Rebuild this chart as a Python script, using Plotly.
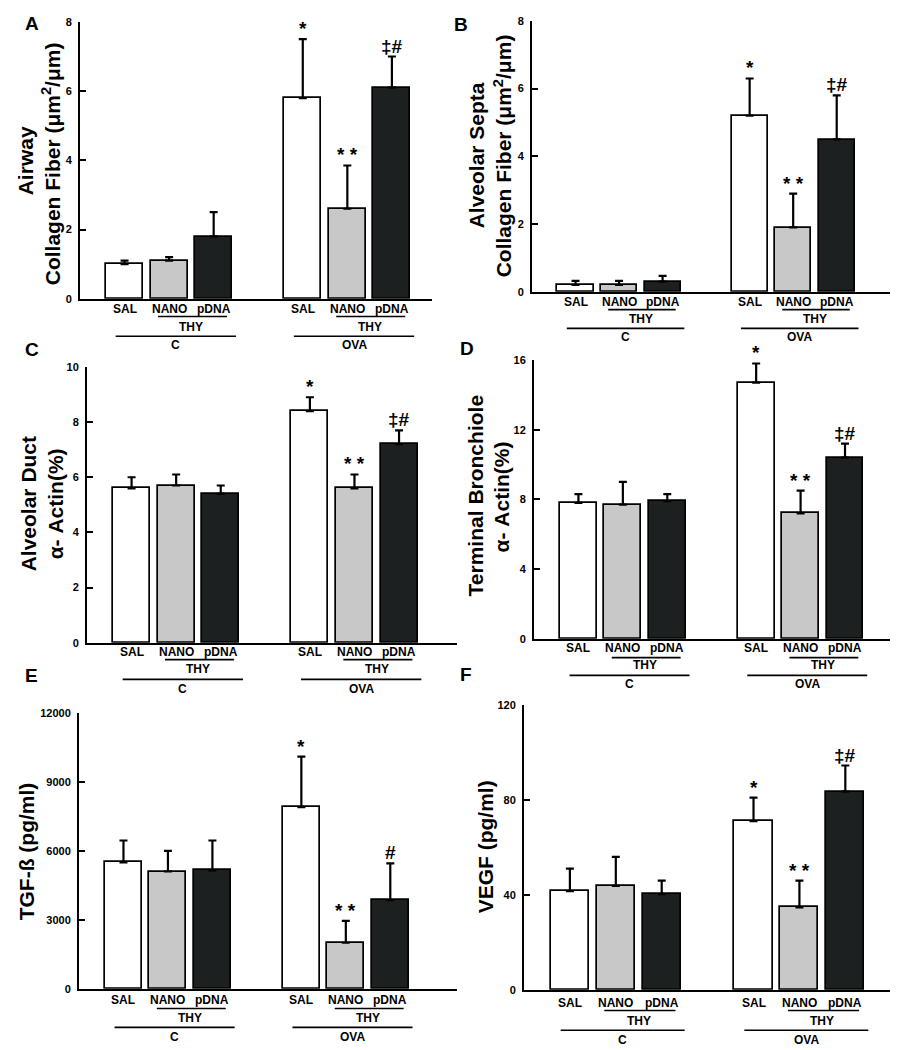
import plotly.graph_objects as go

W, H = 898, 1050

categories = ["SAL", "NANO", "pDNA", "SAL", "NANO", "pDNA"]
groups = ["C", "OVA"]
subgroup = "THY"

a_mean = [1.0, 1.1, 1.8, 5.8, 2.6, 6.1]
a_top = [1.1, 1.2, 2.5, 7.5, 3.85, 7.0]
b_mean = [0.2, 0.2, 0.3, 5.2, 1.9, 4.5]
b_top = [0.32, 0.32, 0.47, 6.3, 2.9, 5.8]
c_mean = [5.6, 5.7, 5.4, 8.4, 5.6, 7.2]
c_top = [6.0, 6.1, 5.7, 8.9, 6.1, 7.7]
d_mean = [7.8, 7.7, 7.9, 14.7, 7.2, 10.4]
d_top = [8.3, 9.0, 8.3, 15.8, 8.5, 11.2]
e_mean = [5500, 5100, 5150, 7900, 2000, 3850]
e_top = [6450, 6000, 6450, 10100, 2950, 5450]
f_mean = [41.5, 43.8, 40.3, 71, 34.7, 83.5]
f_top = [51, 56, 46, 81, 46, 94.5]

a_marks = ["", "", "", "*", "* *", "‡#"]
e_marks = ["", "", "", "*", "* *", "#"]

positions = [1, 2, 3, 5, 6, 7]
colors = ["#ffffff", "#c8c8c8", "#1c2020", "#ffffff", "#c8c8c8", "#1c2020"]

FONT = "Liberation Sans, Arial, sans-serif"

panels = [
    dict(letter="A", mean=a_mean, top=a_top, marks=a_marks, px=(72, 424, 8, 288), xmax=7.9,
         ymax=8, ticks=[0, 2, 4, 6, 8],
         titles=[("Airway", 17, 149), ("Collagen Fiber (μm<sup>2</sup>/μm)", 43, 152)],
         lpos=(24, 10), rows=(10, 18, 29, 38, 47)),
    dict(letter="B", mean=b_mean, top=b_top, marks=a_marks, px=(524, 894, 7, 281), xmax=8.5,
         ymax=8, ticks=[0, 2, 4, 6, 8],
         titles=[("Alveolar Septa", 468, 143), ("Collagen Fiber (μm<sup>2</sup>/μm)", 495, 144)],
         lpos=(453, 11), rows=(10, 18, 28, 37, 46)),
    dict(letter="C", mean=c_mean, top=c_top, marks=a_marks, px=(79, 449, 357, 636), xmax=8.3,
         ymax=10, ticks=[0, 2, 4, 6, 8, 10],
         titles=[("Alveolar Duct", 20, 496), ("α- Actin(%)", 47, 496)],
         lpos=(24, 339), rows=(9, 17, 27, 37, 47)),
    dict(letter="D", mean=d_mean, top=d_top, marks=a_marks, px=(526, 897, 350, 632), xmax=8.35,
         ymax=16, ticks=[0, 4, 8, 12, 16],
         titles=[("Terminal Bronchiole", 467, 488), ("α- Actin(%)", 493, 489)],
         lpos=(459, 338), rows=(9, 19, 27, 37, 46)),
    dict(letter="E", mean=e_mean, top=e_top, marks=e_marks, px=(71, 449, 707, 986), xmax=8.5,
         ymax=12000, ticks=[0, 3000, 6000, 9000, 12000],
         titles=[("TGF-ß (pg/ml)", 18, 847)],
         lpos=(23, 669), rows=(11, 20, 30, 39, 49)),
    dict(letter="F", mean=f_mean, top=f_top, marks=a_marks, px=(516, 897, 699, 987), xmax=8.3,
         ymax=120, ticks=[0, 40, 80, 120],
         titles=[("VEGF (pg/ml)", 477, 843)],
         lpos=(458, 668), rows=(13, 21, 32, 41, 51)),
]


def px_x(x):
    return x / W


def px_y(y):
    return 1 - y / H


fig = go.Figure()
annotations = []
shapes = []
bold = dict(family=FONT, color="black", weight="bold")

for i, p in enumerate(panels, start=1):
    xa = "x" if i == 1 else f"x{i}"
    ya = "y" if i == 1 else f"y{i}"
    xl, xr, yt, yb = p["px"]
    fig.add_trace(go.Bar(
        x=positions, y=p["mean"], xaxis=xa, yaxis=ya, width=0.83,
        marker=dict(color=colors, line=dict(color="black", width=1.7)),
        error_y=dict(type="data", symmetric=False,
                     array=[t - m for t, m in zip(p["top"], p["mean"])],
                     arrayminus=[0] * 6, color="black", thickness=2.2, width=4),
        showlegend=False, hoverinfo="skip",
    ))
    xkey = "xaxis" if i == 1 else f"xaxis{i}"
    ykey = "yaxis" if i == 1 else f"yaxis{i}"
    fig.update_layout(**{
        xkey: dict(domain=[px_x(xl), px_x(xr)], range=[0, p["xmax"]], anchor=ya,
                   showline=True, linecolor="black", linewidth=2, showgrid=False,
                   zeroline=False, showticklabels=False, ticks="", fixedrange=True),
        ykey: dict(domain=[px_y(yb), px_y(yt)], range=[0, p["ymax"]], anchor=xa,
                   showline=True, linecolor="black", linewidth=2, showgrid=False,
                   zeroline=False, ticks="inside", ticklen=6, tickwidth=2,
                   tickcolor="black", tickvals=p["ticks"],
                   ticktext=[str(t) for t in p["ticks"]], ticklabelstandoff=4,
                   tickfont=dict(size=11, **bold)),
    })

    for xpos, top, mk in zip(positions, p["top"], p["marks"]):
        if mk:
            annotations.append(dict(x=xpos, y=top, xref=xa, yref=ya, text=mk,
                                    showarrow=False, yanchor="bottom", yshift=-2,
                                    font=dict(size=19, **bold)))

    r_lab, r_thyline, r_thy, r_grpline, r_grp = p["rows"]
    for xpos, cat in zip(positions, categories):
        annotations.append(dict(x=xpos, y=px_y(yb + r_lab), xref=xa, yref="paper",
                                text=cat, showarrow=False, yanchor="middle",
                                font=dict(size=12, **bold)))
    for g, base in zip(groups, [1, 5]):
        shapes.append(dict(type="line", xref=xa, yref="paper",
                           x0=base + 0.75, x1=base + 2.3,
                           y0=px_y(yb + r_thyline), y1=px_y(yb + r_thyline),
                           line=dict(color="black", width=1.7)))
        annotations.append(dict(x=base + 1.5, y=px_y(yb + r_thy), xref=xa, yref="paper",
                                text=subgroup, showarrow=False, yanchor="middle",
                                font=dict(size=12, **bold)))
        shapes.append(dict(type="line", xref=xa, yref="paper",
                           x0=base - 0.2, x1=base + 2.5,
                           y0=px_y(yb + r_grpline), y1=px_y(yb + r_grpline),
                           line=dict(color="black", width=1.7)))
        annotations.append(dict(x=base + 1.15, y=px_y(yb + r_grp), xref=xa, yref="paper",
                                text=g, showarrow=False, yanchor="middle",
                                font=dict(size=12, **bold)))

    for text, tx, ty in p["titles"]:
        annotations.append(dict(x=px_x(tx), y=px_y(ty), xref="paper", yref="paper",
                                text=text, textangle=-90, showarrow=False,
                                xanchor="center", yanchor="middle",
                                font=dict(size=21, **bold)))
    lx, ly = p["lpos"]
    annotations.append(dict(x=px_x(lx), y=px_y(ly), xref="paper", yref="paper",
                            text=p["letter"], showarrow=False,
                            xanchor="center", yanchor="middle",
                            font=dict(size=19, **bold)))

fig.update_layout(
    width=W, height=H, margin=dict(l=0, r=0, t=0, b=0),
    paper_bgcolor="white", plot_bgcolor="white",
    annotations=annotations, shapes=shapes, bargap=0,
)

fig.write_html("out.html")
